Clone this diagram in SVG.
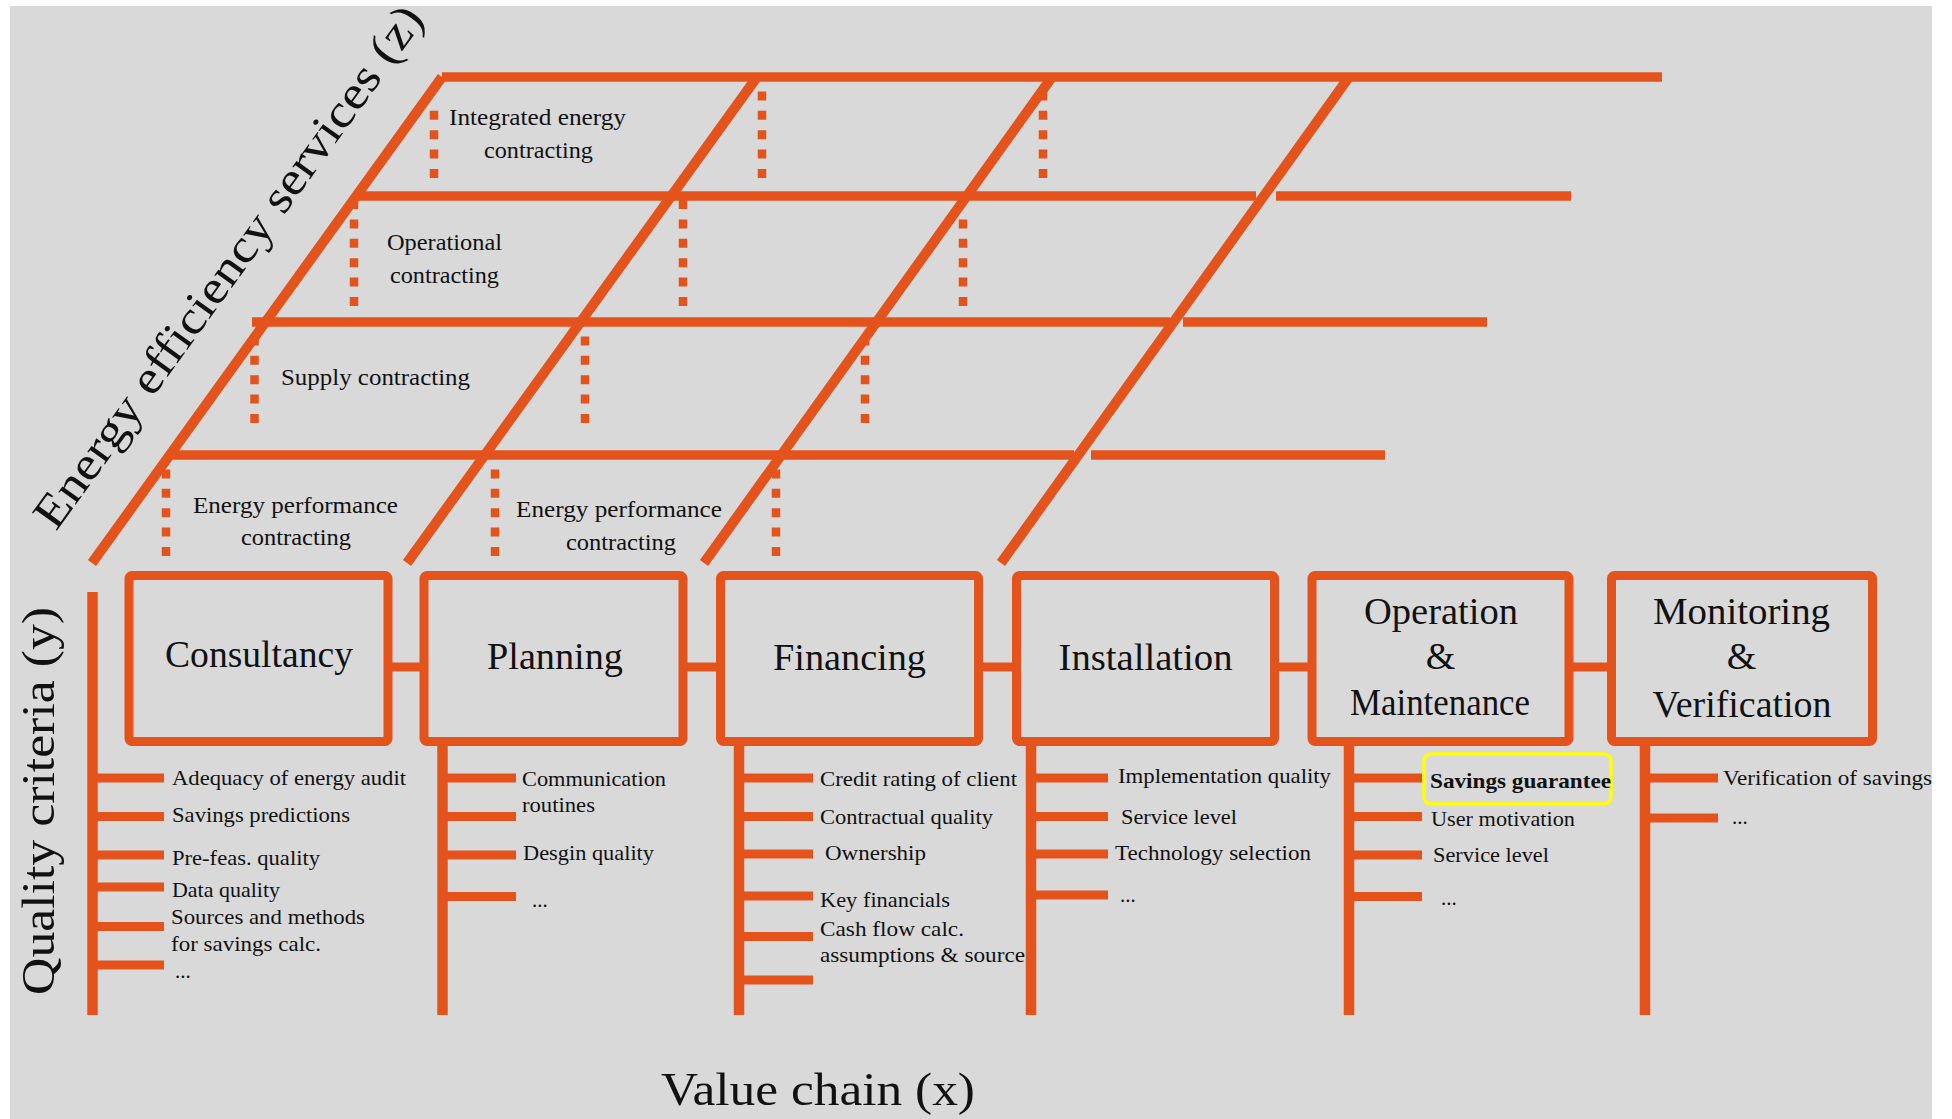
<svg xmlns="http://www.w3.org/2000/svg" width="1952" height="1119" viewBox="0 0 1952 1119">
<style>
.ln{stroke:#e4531b;stroke-width:9.5;fill:none;stroke-linecap:butt}
.dg{stroke:#e4531b;stroke-width:10;fill:none}
.dt{stroke:#e4531b;stroke-width:8.5;fill:none;stroke-dasharray:9 10.4}
.box{stroke:#e4531b;stroke-width:9;fill:none}
.tk{stroke:#e4531b;stroke-width:9;fill:none}
.vl{stroke:#e4531b;stroke-width:10.5;fill:none}
text{font-family:"Liberation Serif","Times New Roman",serif;fill:#111}
.lv{font-size:23px}
.bx{font-size:38px;text-anchor:middle}
.it{font-size:21px}
.ax{font-size:47px}
</style>
<rect x="0" y="0" width="1952" height="1119" fill="#ffffff"/>
<rect x="10" y="6" width="1922" height="1113" fill="#d9d9d9"/>

<g id="grid">
  <line class="ln" x1="442" y1="77" x2="1662" y2="77"/>
  <line class="ln" x1="356" y1="196" x2="1256" y2="196"/>
  <line class="ln" x1="1276" y1="196" x2="1571" y2="196"/>
  <line class="ln" x1="252" y1="322" x2="1170" y2="322"/>
  <line class="ln" x1="1183" y1="322" x2="1487" y2="322"/>
  <line class="ln" x1="168" y1="455" x2="1074" y2="455"/>
  <line class="ln" x1="1091" y1="455" x2="1385" y2="455"/>
  <line class="dg" x1="92" y1="563" x2="442" y2="77"/>
  <line class="dg" x1="407" y1="563" x2="757" y2="77"/>
  <line class="dg" x1="704" y1="563" x2="1052" y2="77"/>
  <line class="dg" x1="1001" y1="563" x2="1349" y2="77"/>
  <line class="dt" x1="434" y1="178" x2="434" y2="105"/>
  <line class="dt" x1="762" y1="178" x2="762" y2="88"/>
  <line class="dt" x1="1043" y1="178" x2="1043" y2="88"/>
  <line class="dt" x1="354" y1="306" x2="354" y2="200"/>
  <line class="dt" x1="683" y1="306" x2="683" y2="200"/>
  <line class="dt" x1="963" y1="306" x2="963" y2="210"/>
  <line class="dt" x1="254.5" y1="423" x2="254.5" y2="330"/>
  <line class="dt" x1="585" y1="423" x2="585" y2="330"/>
  <line class="dt" x1="865" y1="423" x2="865" y2="330"/>
  <line class="dt" x1="166" y1="556" x2="166" y2="462"/>
  <line class="dt" x1="495" y1="556" x2="495" y2="462"/>
  <line class="dt" x1="776" y1="556" x2="776" y2="462"/>
</g>

<g id="level-labels">
  <text class="lv" x="449" y="125" textLength="177" lengthAdjust="spacingAndGlyphs">Integrated  energy</text>
  <text class="lv" x="484" y="158" textLength="109" lengthAdjust="spacingAndGlyphs">contracting</text>
  <text class="lv" x="387" y="250" textLength="115" lengthAdjust="spacingAndGlyphs">Operational</text>
  <text class="lv" x="390" y="283" textLength="109" lengthAdjust="spacingAndGlyphs">contracting</text>
  <text class="lv" x="281" y="385" textLength="189" lengthAdjust="spacingAndGlyphs">Supply  contracting</text>
  <text class="lv" x="193" y="513" textLength="205" lengthAdjust="spacingAndGlyphs">Energy  performance</text>
  <text class="lv" x="241" y="545" textLength="110" lengthAdjust="spacingAndGlyphs">contracting</text>
  <text class="lv" x="516" y="517" textLength="206" lengthAdjust="spacingAndGlyphs">Energy  performance</text>
  <text class="lv" x="566" y="550" textLength="110" lengthAdjust="spacingAndGlyphs">contracting</text>
</g>

<g id="axis-labels">
  <text class="ax" transform="translate(56,532) rotate(-54.24)" x="0" y="0" textLength="632" lengthAdjust="spacingAndGlyphs">Energy  efficiency  services (z)</text>
  <text class="ax" transform="translate(54,995) rotate(-90)" x="0" y="0" textLength="388" lengthAdjust="spacingAndGlyphs">Quality criteria (y)</text>
  <text class="ax" x="661" y="1105" textLength="314" lengthAdjust="spacingAndGlyphs">Value chain (x)</text>
</g>

<g id="connectors">
  <line class="tk" x1="392" y1="667" x2="420" y2="667"/>
  <line class="tk" x1="687" y1="667" x2="716" y2="667"/>
  <line class="tk" x1="983" y1="667" x2="1012" y2="667"/>
  <line class="tk" x1="1279" y1="667" x2="1308" y2="667"/>
  <line class="tk" x1="1573" y1="667" x2="1607" y2="667"/>
  <!-- quality axis / consultancy -->
  <line class="vl" x1="92.5" y1="592" x2="92.5" y2="1015"/>
  <line class="tk" x1="92" y1="778" x2="164" y2="778"/>
  <line class="tk" x1="92" y1="816.5" x2="164" y2="816.5"/>
  <line class="tk" x1="92" y1="855" x2="164" y2="855"/>
  <line class="tk" x1="92" y1="887" x2="164" y2="887"/>
  <line class="tk" x1="92" y1="926.5" x2="164" y2="926.5"/>
  <line class="tk" x1="92" y1="965" x2="164" y2="965"/>
  <!-- planning -->
  <line class="vl" x1="442.5" y1="745" x2="442.5" y2="1015"/>
  <line class="tk" x1="442" y1="778" x2="516" y2="778"/>
  <line class="tk" x1="442" y1="816.5" x2="516" y2="816.5"/>
  <line class="tk" x1="442" y1="855" x2="516" y2="855"/>
  <line class="tk" x1="442" y1="896.5" x2="516" y2="896.5"/>
  <!-- financing -->
  <line class="vl" x1="739" y1="745" x2="739" y2="1015"/>
  <line class="tk" x1="739" y1="778" x2="813" y2="778"/>
  <line class="tk" x1="739" y1="816.5" x2="813" y2="816.5"/>
  <line class="tk" x1="739" y1="854" x2="813" y2="854"/>
  <line class="tk" x1="739" y1="896" x2="813" y2="896"/>
  <line class="tk" x1="739" y1="936.5" x2="813" y2="936.5"/>
  <line class="tk" x1="739" y1="980" x2="813" y2="980"/>
  <!-- installation -->
  <line class="vl" x1="1031" y1="745" x2="1031" y2="1015"/>
  <line class="tk" x1="1031" y1="778" x2="1108" y2="778"/>
  <line class="tk" x1="1031" y1="816.5" x2="1108" y2="816.5"/>
  <line class="tk" x1="1031" y1="854" x2="1108" y2="854"/>
  <line class="tk" x1="1031" y1="895" x2="1108" y2="895"/>
  <!-- operation & maintenance -->
  <line class="vl" x1="1349" y1="745" x2="1349" y2="1015"/>
  <line class="tk" x1="1349" y1="778" x2="1422" y2="778"/>
  <line class="tk" x1="1349" y1="816.5" x2="1422" y2="816.5"/>
  <line class="tk" x1="1349" y1="855" x2="1422" y2="855"/>
  <line class="tk" x1="1349" y1="896.5" x2="1422" y2="896.5"/>
  <!-- monitoring & verification -->
  <line class="vl" x1="1645" y1="745" x2="1645" y2="1015"/>
  <line class="tk" x1="1645" y1="778" x2="1718" y2="778"/>
  <line class="tk" x1="1645" y1="818" x2="1718" y2="818"/>
</g>

<g id="node-consultancy">
  <rect class="box" x="129" y="575.5" width="259" height="166" rx="3"/>
  <text class="bx" x="259" y="667" textLength="188" lengthAdjust="spacingAndGlyphs">Consultancy</text>
</g>
<g id="node-planning">
  <rect class="box" x="424" y="575.5" width="259" height="166" rx="3"/>
  <text class="bx" x="555" y="669" textLength="136" lengthAdjust="spacingAndGlyphs">Planning</text>
</g>
<g id="node-financing">
  <rect class="box" x="720.5" y="575.5" width="258" height="166" rx="3"/>
  <text class="bx" x="849.5" y="670" textLength="153" lengthAdjust="spacingAndGlyphs">Financing</text>
</g>
<g id="node-installation">
  <rect class="box" x="1016.5" y="575.5" width="258" height="166" rx="3"/>
  <text class="bx" x="1145.5" y="670" textLength="174" lengthAdjust="spacingAndGlyphs">Installation</text>
</g>
<g id="node-operation-maintenance">
  <rect class="box" x="1312" y="575.5" width="257" height="166" rx="3"/>
  <text class="bx" x="1441" y="624" textLength="154" lengthAdjust="spacingAndGlyphs">Operation</text>
  <text class="bx" x="1440.5" y="669">&amp;</text>
  <text class="bx" x="1440" y="715" textLength="180" lengthAdjust="spacingAndGlyphs">Maintenance</text>
</g>
<g id="node-monitoring-verification">
  <rect class="box" x="1611.5" y="575.5" width="261" height="166" rx="3"/>
  <text class="bx" x="1741.5" y="624" textLength="177" lengthAdjust="spacingAndGlyphs">Monitoring</text>
  <text class="bx" x="1741.5" y="669">&amp;</text>
  <text class="bx" x="1742" y="717" textLength="179" lengthAdjust="spacingAndGlyphs">Verification</text>
</g>

<g id="criteria-consultancy">
  <text class="it" x="172" y="785" textLength="234" lengthAdjust="spacingAndGlyphs">Adequacy of energy audit</text>
  <text class="it" x="172" y="822" textLength="178" lengthAdjust="spacingAndGlyphs">Savings predictions</text>
  <text class="it" x="172" y="865" textLength="148" lengthAdjust="spacingAndGlyphs">Pre-feas. quality</text>
  <text class="it" x="172" y="896.5" textLength="108" lengthAdjust="spacingAndGlyphs">Data quality</text>
  <text class="it" x="171" y="923.5" textLength="194" lengthAdjust="spacingAndGlyphs">Sources and methods</text>
  <text class="it" x="171" y="950.5" textLength="150" lengthAdjust="spacingAndGlyphs">for savings calc.</text>
  <text class="it" x="175" y="978">...</text>
</g>
<g id="criteria-planning">
  <text class="it" x="522" y="786" textLength="144" lengthAdjust="spacingAndGlyphs">Communication</text>
  <text class="it" x="522" y="812" textLength="73" lengthAdjust="spacingAndGlyphs">routines</text>
  <text class="it" x="523" y="860" textLength="131" lengthAdjust="spacingAndGlyphs">Desgin quality</text>
  <text class="it" x="532" y="907">...</text>
</g>
<g id="criteria-financing">
  <text class="it" x="820" y="786" textLength="197" lengthAdjust="spacingAndGlyphs">Credit rating of client</text>
  <text class="it" x="820" y="824" textLength="173" lengthAdjust="spacingAndGlyphs">Contractual quality</text>
  <text class="it" x="825" y="860" textLength="101" lengthAdjust="spacingAndGlyphs">Ownership</text>
  <text class="it" x="820" y="907" textLength="130" lengthAdjust="spacingAndGlyphs">Key  financials</text>
  <text class="it" x="820" y="936" textLength="144" lengthAdjust="spacingAndGlyphs">Cash flow calc.</text>
  <text class="it" x="820" y="962" textLength="205" lengthAdjust="spacingAndGlyphs">assumptions &amp; source</text>
</g>
<g id="criteria-installation">
  <text class="it" x="1118" y="782.5" textLength="213" lengthAdjust="spacingAndGlyphs">Implementation  quality</text>
  <text class="it" x="1121" y="823.5" textLength="116" lengthAdjust="spacingAndGlyphs">Service level</text>
  <text class="it" x="1115" y="860" textLength="196" lengthAdjust="spacingAndGlyphs">Technology selection</text>
  <text class="it" x="1120" y="902">...</text>
</g>
<g id="criteria-operation-maintenance">
  <rect x="1424" y="754" width="187" height="50" rx="7" fill="none" stroke="#ffff00" stroke-width="3.5"/>
  <text class="it" x="1430" y="788" font-weight="bold" textLength="181" lengthAdjust="spacingAndGlyphs">Savings guarantee</text>
  <text class="it" x="1431" y="826" textLength="144" lengthAdjust="spacingAndGlyphs">User motivation</text>
  <text class="it" x="1433" y="862" textLength="116" lengthAdjust="spacingAndGlyphs">Service level</text>
  <text class="it" x="1441" y="905">...</text>
</g>
<g id="criteria-monitoring-verification">
  <text class="it" x="1723" y="785" textLength="209" lengthAdjust="spacingAndGlyphs">Verification  of savings</text>
  <text class="it" x="1732" y="824">...</text>
</g>
</svg>
